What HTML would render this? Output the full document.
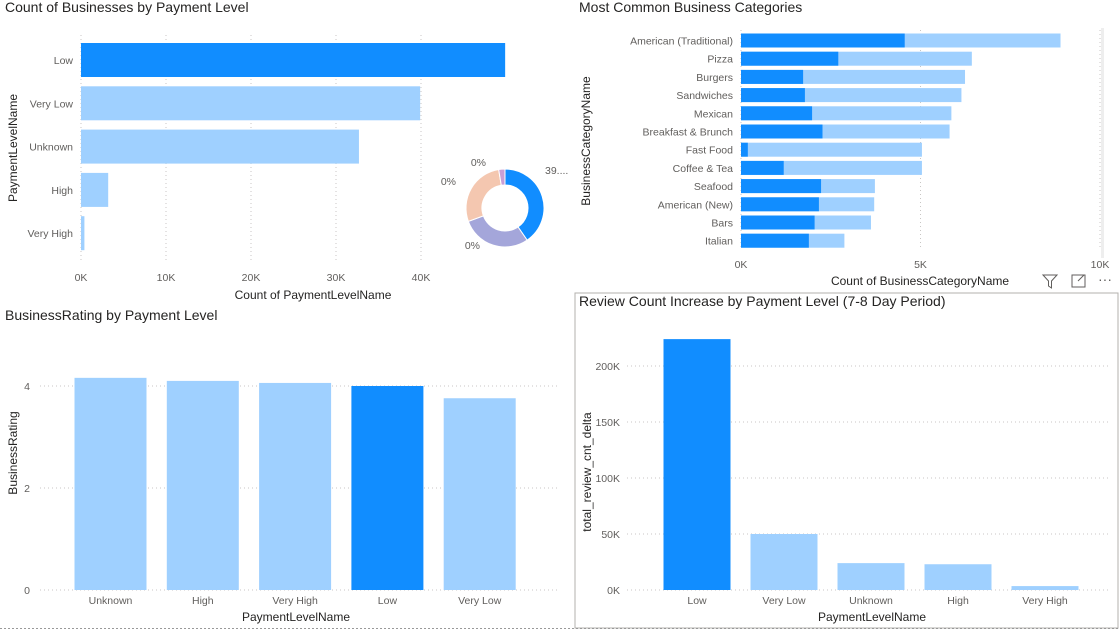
<!DOCTYPE html>
<html><head><meta charset="utf-8"><style>
body{margin:0;background:#fff;}
svg{display:block;font-family:"Liberation Sans","DejaVu Sans",sans-serif;}
.t{font-size:14px;fill:#252423;}
.tk{font-size:10.5px;fill:#605e5c;}
.at{font-size:12px;fill:#252423;}
.g{stroke:#c8c6c4;stroke-dasharray:1 3;stroke-width:1;}
</style></head><body>
<svg id="c" width="1120" height="630" viewBox="0 0 1120 630">
<text class="t" x="5" y="12">Count of Businesses by Payment Level</text>
<text class="t" x="579" y="12">Most Common Business Categories</text>
<text class="t" x="5" y="320">BusinessRating by Payment Level</text>
<rect x="575" y="293" width="543" height="335" fill="none" stroke="#b3b0ad"/>
<text class="t" x="579" y="306">Review Count Increase by Payment Level (7-8 Day Period)</text>
<line x1="0" y1="628.5" x2="1120" y2="628.5" stroke="#999" stroke-dasharray="2 2"/>
<text class="at" x="313" y="299" text-anchor="middle">Count of PaymentLevelName</text>
<text class="at" transform="translate(17,148) rotate(-90)" text-anchor="middle">PaymentLevelName</text>
<text class="at" x="920" y="285" text-anchor="middle">Count of BusinessCategoryName</text>
<text class="at" transform="translate(590,141) rotate(-90)" text-anchor="middle">BusinessCategoryName</text>
<text class="at" x="296" y="621" text-anchor="middle">PaymentLevelName</text>
<text class="at" transform="translate(17,453) rotate(-90)" text-anchor="middle">BusinessRating</text>
<text class="at" x="872" y="621" text-anchor="middle">PaymentLevelName</text>
<text class="at" transform="translate(591,472) rotate(-90)" text-anchor="middle">total_review_cnt_delta</text>
<g><path d="M1043 275 h14 l-5.5 6 v7 l-3 -2 v-5 z" fill="none" stroke="#605e5c"/></g>
<g><rect x="1072" y="275" width="13" height="12" fill="none" stroke="#605e5c"/><path d="M1078 281 l6 -6" stroke="#605e5c"/></g>
<text x="1098" y="284" font-size="14" fill="#605e5c">···</text>
<rect x="1101" y="28" width="3" height="230" fill="#eee"/>
<g id="p1"></g><g id="p2"></g><g id="p3"></g><g id="p4"></g><g id="p5"></g>
</svg>
<script>
const payCats=["Low","Very Low","Unknown","High","Very High"];
const payCounts=[49.9,39.9,32.7,3.2,0.4];
const payTicks=[0,10,20,30,40];
const donutVals=[39,28,27,2.5];
const donutLabels=["39....","0%","0%","0%"];
const bizCats=["American (Traditional)","Pizza","Burgers","Sandwiches","Mexican","Breakfast & Brunch","Fast Food","Coffee & Tea","Seafood","American (New)","Bars","Italian"];
const bizDark=[4.56,2.71,1.73,1.78,1.98,2.27,0.19,1.19,2.23,2.17,2.05,1.89];
const bizTotal=[8.9,6.43,6.24,6.14,5.86,5.81,5.04,5.04,3.73,3.71,3.62,2.88];
const bizTicks=[0,5,10];
const rateCats=["Unknown","High","Very High","Low","Very Low"];
const rateVals=[4.16,4.1,4.06,4.0,3.76];
const rateTicks=[0,2,4];
const revCats=["Low","Very Low","Unknown","High","Very High"];
const revVals=[224,50,24,23,3.5];
const revTicks=[0,50,100,150,200];
const NS="http://www.w3.org/2000/svg";
const DARK="#118dff",LIGHT="#9fd0ff";
function el(p,t,a,txt){const e=document.createElementNS(NS,t);for(const k in a)e.setAttribute(k,a[k]);if(txt!=null)e.textContent=txt;p.appendChild(e);return e;}
// Chart 1
(function(){const g=document.getElementById('p1');const x=v=>81+v*8.5;
payTicks.forEach(t=>{const l=el(g,'line',{x1:x(t),x2:x(t),y1:35,y2:262,class:'g'});
const tx=el(g,'text',{x:x(t),y:281,class:'tk','text-anchor':'middle'},t+'K');});
payCats.forEach((c,i)=>{const cy=60+i*43.3;const r=el(g,'rect',{x:x(0),y:cy-17,width:x(payCounts[i])-x(0),height:34,fill:i==0?DARK:LIGHT});
const tx=el(g,'text',{x:73,y:cy+4,class:'tk','text-anchor':'end'},c);});})();
// Donut
(function(){const g=document.getElementById('p2');const cx=505,cy=208,R=39,r=23;const tot=donutVals.reduce((a,b)=>a+b,0);const cols=[DARK,"#a4a6da","#f4c7b0","#c99fd6"];let a0=0;
const lp=[[545,174,'start'],[480,249,'end'],[456,185,'end'],[486,166,'end']];
donutVals.forEach((v,i)=>{const a1=a0+v/tot*2*Math.PI;const P=(a,rr)=>[cx+rr*Math.sin(a),cy-rr*Math.cos(a)];const la=(a1-a0)>Math.PI?1:0;
const [x1,y1]=P(a0,R),[x2,y2]=P(a1,R),[x3,y3]=P(a1,r),[x4,y4]=P(a0,r);
const p=el(g,'path',{d:`M${x1} ${y1} A${R} ${R} 0 ${la} 1 ${x2} ${y2} L${x3} ${y3} A${r} ${r} 0 ${la} 0 ${x4} ${y4}Z`,fill:cols[i],stroke:'#fff','stroke-width':1});

const tx=el(g,'text',{x:lp[i][0],y:lp[i][1],class:'tk','text-anchor':lp[i][2]},donutLabels[i]);a0=a1;});})();
// Chart 3 categories
(function(){const g=document.getElementById('p3');const x=v=>741+v*35.9;
bizTicks.forEach(t=>{const l=el(g,'line',{x1:x(t),x2:x(t),y1:30,y2:250,class:'g'});
const tx=el(g,'text',{x:x(t),y:268,class:'tk','text-anchor':'middle'},t+'K');});
bizCats.forEach((c,i)=>{const cy=40.5+i*18.2;
const r=el(g,'rect',{x:x(0),y:cy-7,width:x(bizTotal[i])-x(0),height:14,fill:LIGHT});
const d=el(g,'rect',{x:x(0),y:cy-7,width:x(bizDark[i])-x(0),height:14,fill:DARK});
const tx=el(g,'text',{x:733,y:cy+4,class:'tk','text-anchor':'end'},c);});})();
// Chart 4 rating
(function(){const g=document.getElementById('p4');const y=v=>590-v*51;
rateTicks.forEach(t=>{const l=el(g,'line',{x1:40,x2:560,y1:y(t),y2:y(t),class:'g'});
const tx=el(g,'text',{x:30,y:y(t)+4,class:'tk','text-anchor':'end'},t);});
rateCats.forEach((c,i)=>{const cx=110.5+i*92.3;const r=el(g,'rect',{x:cx-36,y:y(rateVals[i]),width:72,height:y(0)-y(rateVals[i]),fill:c=="Low"?DARK:LIGHT});
const tx=el(g,'text',{x:cx,y:604,class:'tk','text-anchor':'middle'},c);});})();
// Chart 5 review
(function(){const g=document.getElementById('p5');const y=v=>590-v*1.12;
revTicks.forEach(t=>{const l=el(g,'line',{x1:627,x2:1110,y1:y(t),y2:y(t),class:'g'});
const tx=el(g,'text',{x:620,y:y(t)+4,class:'tk','text-anchor':'end'},t+'K');});
revCats.forEach((c,i)=>{const cx=697+i*87;const r=el(g,'rect',{x:cx-33.5,y:y(revVals[i]),width:67,height:y(0)-y(revVals[i]),fill:i==0?DARK:LIGHT});
const tx=el(g,'text',{x:cx,y:604,class:'tk','text-anchor':'middle'},c);});})();
</script>
</body></html>
